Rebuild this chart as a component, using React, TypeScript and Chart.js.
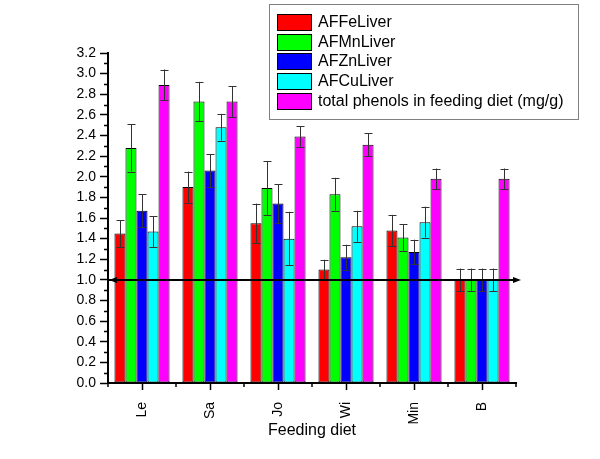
import React, { useEffect, useRef } from 'react';
import { Chart, registerables } from 'chart.js';

Chart.register(...registerables);

const categories = ['Le', 'Sa', 'Jo', 'Wi', 'Min', 'B'];
const seriesLabels = ['AFFeLiver', 'AFMnLiver', 'AFZnLiver', 'AFCuLiver', 'total phenols in feeding diet (mg/g)'];
const seriesColors = ['#FF0000', '#00FF00', '#0000FF', '#00FFFF', '#FF00FF'];

const feValues = [1.45, 1.9, 1.55, 1.1, 1.48, 1.0];
const feErrors = [0.13, 0.15, 0.19, 0.095, 0.15, 0.11];
const mnValues = [2.28, 2.73, 1.89, 1.83, 1.41, 1.0];
const mnErrors = [0.23, 0.19, 0.26, 0.16, 0.13, 0.11];
const znValues = [1.67, 2.06, 1.74, 1.22, 1.27, 1.0];
const znErrors = [0.16, 0.16, 0.19, 0.12, 0.12, 0.11];
const cuValues = [1.47, 2.48, 1.4, 1.52, 1.56, 1.0];
const cuErrors = [0.15, 0.13, 0.26, 0.15, 0.15, 0.11];
const phenolValues = [2.89, 2.73, 2.39, 2.31, 1.98, 1.98];
const phenolErrors = [0.15, 0.15, 0.1, 0.11, 0.1, 0.1];

const yMin = 0;
const yMax = 3.2;
const yMajorStep = 0.2;
const yMinorStep = 0.1;
const referenceValue = 1.0;
const xTitle = 'Feeding diet';

const allValues = [feValues, mnValues, znValues, cuValues, phenolValues];
const allErrors = [feErrors, mnErrors, znErrors, cuErrors, phenolErrors];

const FONT = '"Liberation Sans", Arial, sans-serif';

const errorBarPlugin = {
  id: 'errorBars',
  afterDatasetsDraw(chart: any) {
    const ctx = chart.ctx;
    const y = chart.scales.y;
    chart.data.datasets.forEach((ds: any, di: number) => {
      const meta = chart.getDatasetMeta(di);
      meta.data.forEach((bar: any, i: number) => {
        const v = ds.data[i];
        const e = ds.errors[i];
        const top = y.getPixelForValue(v + e);
        const bot = y.getPixelForValue(v - e);
        const x = Math.round(bar.x) + 0.5;
        ctx.save();
        ctx.strokeStyle = '#333333';
        ctx.lineWidth = 1;
        ctx.beginPath();
        ctx.moveTo(x, top);
        ctx.lineTo(x, bot);
        ctx.moveTo(x - 4, Math.round(top) + 0.5);
        ctx.lineTo(x + 4, Math.round(top) + 0.5);
        ctx.moveTo(x - 4, Math.round(bot) + 0.5);
        ctx.lineTo(x + 4, Math.round(bot) + 0.5);
        ctx.stroke();
        ctx.restore();
      });
    });
  },
};

const decorPlugin = {
  id: 'decor',
  afterDraw(chart: any) {
    const ctx = chart.ctx;
    const x = chart.scales.x;
    const y = chart.scales.y;
    const area = chart.chartArea;
    ctx.save();
    // minor y ticks
    ctx.strokeStyle = '#000';
    ctx.lineWidth = 1.5;
    ctx.beginPath();
    for (let k = 1; k * yMinorStep < yMax; k += 2) {
      const py = Math.round(y.getPixelForValue(k * yMinorStep)) + 0.5;
      ctx.moveTo(area.left - 4, py);
      ctx.lineTo(area.left, py);
    }
    // minor x ticks at category boundaries
    const n = categories.length;
    const w = (x.right - x.left) / n;
    for (let k = 0; k <= n; k++) {
      const px = Math.round(x.left + k * w);
      ctx.moveTo(px, area.bottom);
      ctx.lineTo(px, area.bottom + 4);
    }
    ctx.stroke();

    // reference line with arrows
    const ry = Math.round(y.getPixelForValue(referenceValue));
    ctx.lineWidth = 2;
    ctx.beginPath();
    ctx.moveTo(area.left, ry);
    ctx.lineTo(area.right + 1, ry);
    ctx.stroke();
    ctx.fillStyle = '#000';
    ctx.beginPath();
    ctx.moveTo(area.right + 5, ry);
    ctx.lineTo(area.right - 3, ry - 3);
    ctx.lineTo(area.right - 3, ry + 3);
    ctx.closePath();
    ctx.fill();
    ctx.beginPath();
    ctx.moveTo(area.left + 1, ry);
    ctx.lineTo(area.left + 9, ry - 3);
    ctx.lineTo(area.left + 9, ry + 3);
    ctx.closePath();
    ctx.fill();

    // legend
    const lx = 269.5;
    const ly = 4.5;
    const lw = 309;
    const lh = 115;
    ctx.fillStyle = '#fff';
    ctx.fillRect(lx, ly, lw, lh);
    ctx.strokeStyle = '#808080';
    ctx.lineWidth = 1;
    ctx.strokeRect(lx, ly, lw, lh);
    chart.data.datasets.forEach((ds: any, i: number) => {
      const sy = 14 + i * 19.7;
      ctx.fillStyle = ds.backgroundColor;
      ctx.fillRect(277, Math.round(sy), 35, 17);
      ctx.strokeStyle = '#000';
      ctx.strokeRect(277.5, Math.round(sy) + 0.5, 34, 16);
      ctx.fillStyle = '#000';
      ctx.font = `16px ${FONT}`;
      ctx.textBaseline = 'middle';
      ctx.textAlign = 'left';
      ctx.fillText(ds.label, 318, Math.round(sy) + 9);
    });
    ctx.restore();
  },
};

export default function App() {
  const ref = useRef<HTMLCanvasElement | null>(null);
  useEffect(() => {
    if (!ref.current) return;
    const chart = new Chart(ref.current, {
      type: 'bar',
      data: {
        labels: categories,
        datasets: seriesLabels.map((label, i) => ({
          label,
          data: allValues[i],
          errors: allErrors[i],
          backgroundColor: seriesColors[i],
          borderColor: '#000000',
          borderWidth: 1,
          borderSkipped: false,
          barPercentage: 1,
          categoryPercentage: 0.81,
        })) as any,
      },
      options: {
        animation: false,
        responsive: false,
        maintainAspectRatio: false,
        layout: { padding: { left: 0, top: 53, right: 84, bottom: 0 } },
        plugins: {
          legend: { display: false },
          tooltip: { enabled: false },
        },
        scales: {
          x: {
            type: 'category',
            offset: true,
            grid: { display: true, drawOnChartArea: false, offset: false, tickLength: 7, tickColor: '#000', tickWidth: 1.5 },
            border: { display: true, color: '#000', width: 2 },
            ticks: {
              color: '#000',
              font: { family: FONT, size: 14 },
              maxRotation: 90,
              minRotation: 90,
              padding: 12,
            },
            title: {
              display: true,
              text: xTitle,
              color: '#000',
              font: { family: FONT, size: 16 },
              padding: { top: 0, bottom: 19 },
            },
            afterFit: (s: any) => {
              s.height = 76;
            },
          },
          y: {
            type: 'linear',
            min: yMin,
            max: yMax,
            grid: { display: true, drawOnChartArea: false, tickLength: 8, tickColor: '#000', tickWidth: 1.5 },
            border: { display: true, color: '#000', width: 2 },
            ticks: {
              stepSize: yMajorStep,
              color: '#000',
              font: { family: FONT, size: 14 },
              padding: 4,
              callback: (v: any) => Number(v).toFixed(1),
            },
            afterFit: (s: any) => {
              s.width = 108;
            },
          },
        },
      },
      plugins: [errorBarPlugin, decorPlugin],
    } as any);
    return () => chart.destroy();
  }, []);
  return (
    <div style={{ position: 'absolute', left: 0, top: 0, width: 600, height: 459, background: '#fff' }}>
      <canvas ref={ref} width={600} height={459} />
    </div>
  );
}
